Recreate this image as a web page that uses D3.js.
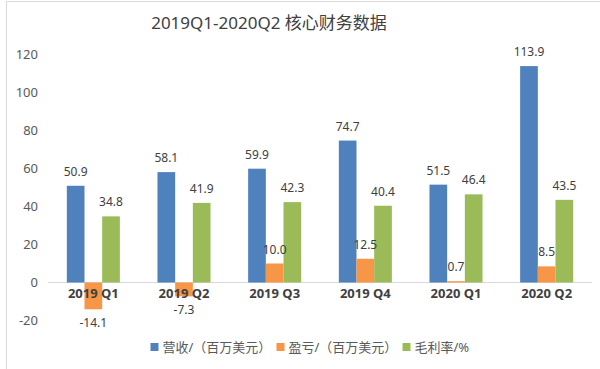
<!DOCTYPE html>
<html>
<head>
<meta charset="utf-8">
<script src="https://cdn.jsdelivr.net/npm/d3@7"></script>
<style>
  body { margin: 0; background: #fff; }
  svg { display: block; font-family: "Noto Sans", "Noto Sans CJK SC", sans-serif; }
</style>
</head>
<body>
<div id="chart"></div>
<script>
// data
var quarters = ["2019 Q1", "2019 Q2", "2019 Q3", "2019 Q4", "2020 Q1", "2020 Q2"];
var seriesNames = ["营收/（百万美元）", "盈亏/（百万美元）", "毛利率/%"];
var revenue = [50.9, 58.1, 59.9, 74.7, 51.5, 113.9];
var profit = [-14.1, -7.3, 10.0, 12.5, 0.7, 8.5];
var grossMargin = [34.8, 41.9, 42.3, 40.4, 46.4, 43.5];
var yTicks = [-20, 0, 20, 40, 60, 80, 100, 120];

var colors = ["#4F81BD", "#F79646", "#9BBB59"];
var allSeries = [revenue, profit, grossMargin];

// plain hyphen for negatives, like the original
var fmt1 = (v) => d3.format(".1f")(v).replace("\u2212", "-");
var fmt0 = (v) => String(v);

var width = 600, height = 369;

var svg = d3.select("#chart")
  .append("svg")
  .attr("width", width)
  .attr("height", height);

// outer chart border (cropped on right / bottom)
svg.append("rect")
  .attr("x", 6.5)
  .attr("y", 1.5)
  .attr("width", 620)
  .attr("height", 400)
  .attr("fill", "none")
  .attr("stroke", "#d9d9d9");

// title
svg.append("text")
  .attr("x", 269)
  .attr("y", 29)
  .attr("text-anchor", "middle")
  .style("font-size", "17px")
  .style("fill", "#404040")
  .text("2019Q1-2020Q2 核心财务数据");

// scales
var x0 = d3.scaleBand()
  .domain(quarters)
  .range([48, 592])
  .paddingInner(0.415)
  .paddingOuter(0.2075);

var x1 = d3.scaleBand()
  .domain(d3.range(seriesNames.length))
  .range([0, x0.bandwidth()]);

var y = d3.scaleLinear()
  .domain([-20, 120])
  .range([320.5, 54.5]);

// y axis labels
var yAxis = d3.axisLeft(y)
  .tickValues(yTicks)
  .tickFormat(fmt0)
  .tickSize(0)
  .tickPadding(0);

var gy = svg.append("g")
  .attr("transform", "translate(38,0)")
  .call(yAxis);
gy.select(".domain").remove();
gy.selectAll("text")
  .style("font-size", "13px")
  .style("fill", "#595959")
  .style("font-family", "\"Noto Sans\", sans-serif");

// zero line
svg.append("line")
  .attr("x1", 48)
  .attr("x2", 592)
  .attr("y1", y(0))
  .attr("y2", y(0))
  .attr("stroke", "#d9d9d9")
  .attr("stroke-width", 1);

// flatten the data for bars
var rows = [];
quarters.forEach(function (q, i) {
  allSeries.forEach(function (s, j) {
    rows.push({ q: q, s: j, v: s[i] });
  });
});

// bars
svg.selectAll("rect.bar")
  .data(rows)
  .enter()
  .append("rect")
  .attr("class", "bar")
  .attr("x", (d) => x0(d.q) + x1(d.s))
  .attr("y", (d) => y(Math.max(0, d.v)))
  .attr("width", x1.bandwidth())
  .attr("height", (d) => Math.abs(y(d.v) - y(0)))
  .style("fill", (d) => colors[d.s]);

// value labels
svg.selectAll("text.val")
  .data(rows)
  .enter()
  .append("text")
  .attr("class", "val")
  .attr("x", (d) => x0(d.q) + x1(d.s) + x1.bandwidth() / 2)
  .attr("y", (d) => d.v >= 0 ? y(d.v) - 10 : y(d.v) + 18)
  .attr("text-anchor", "middle")
  .style("font-size", "12px")
  .style("fill", "#404040")
  .text((d) => fmt1(d.v));

// category labels (drawn over bars)
var xAxis = d3.axisBottom(x0).tickSize(0).tickPadding(0);
var gx = svg.append("g")
  .attr("transform", "translate(0," + y(0) + ")")
  .call(xAxis);
gx.select(".domain").remove();
gx.selectAll("text")
  .attr("dy", "0")
  .attr("y", 15.5)
  .style("font-size", "13px")
  .style("font-weight", "bold")
  .style("fill", "#404040")
  .style("font-family", "\"Noto Sans\", sans-serif");

// legend
var legendX = [150.5, 276.5, 402.5];
var legend = svg.selectAll("g.legend")
  .data(seriesNames)
  .enter()
  .append("g")
  .attr("class", "legend")
  .attr("transform", (d, i) => "translate(" + legendX[i] + ",343)");

legend.append("rect")
  .attr("width", 8)
  .attr("height", 8)
  .style("fill", (d, i) => colors[i]);

legend.append("text")
  .attr("x", 12)
  .attr("y", 8.5)
  .style("font-size", "13px")
  .style("fill", "#595959")
  .text((d) => d);
</script>
</body>
</html>
